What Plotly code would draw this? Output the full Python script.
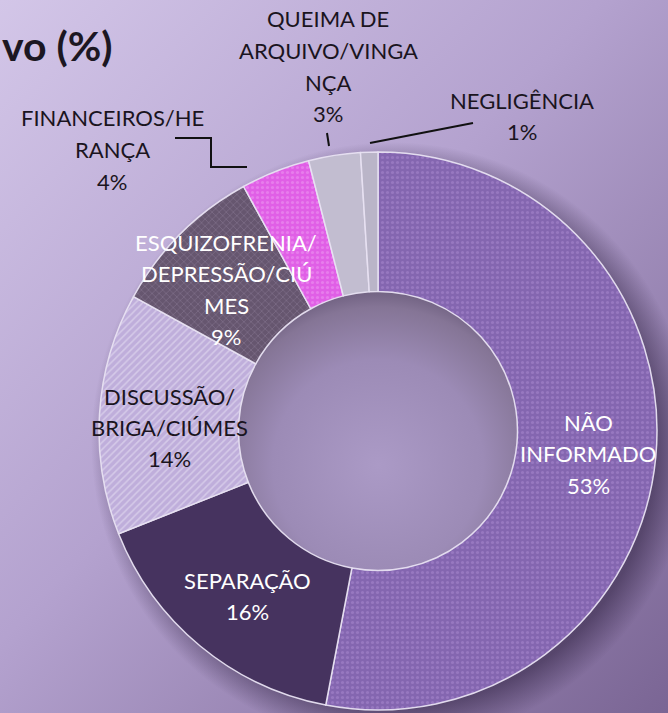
import base64
import plotly.graph_objects as go

# ---------------- data ----------------
labels = ["NÃO INFORMADO", "SEPARAÇÃO", "DISCUSSÃO/BRIGA/CIÚMES",
          "ESQUIZOFRENIA/DEPRESSÃO/CIÚMES", "FINANCEIROS/HERANÇA",
          "QUEIMA DE ARQUIVO/VINGANÇA", "NEGLIGÊNCIA"]
values = [53, 16, 14, 9, 4, 3, 1]
label_lines = [
    ["NÃO", "INFORMADO"],
    ["SEPARAÇÃO"],
    ["DISCUSSÃO/", "BRIGA/CIÚMES"],
    ["ESQUIZOFRENIA/", "DEPRESSÃO/CIÚ", "MES"],
    ["FINANCEIROS/HE", "RANÇA"],
    ["QUEIMA DE", "ARQUIVO/VINGA", "NÇA"],
    ["NEGLIGÊNCIA"],
]
title_text = "vo (%)"

# ---------------- styling ----------------
W, H = 668, 713
CX, CY, R = 378, 431, 279          # pie centre / radius in px
HOLE = 0.5

base_colors = ["#8466b0", "#46335f", "#bfaedb", "#66566f", "#e05fe6", "#c2bdd0", "#bab5c8"]
pat_shapes = [".", "", "/", "x", ".", "", ""]
pat_fg = ["#a98ad0", "#46335f", "#ece6f6", "#8f8099", "#ee9af2", "#c2bdd0", "#bab5c8"]

# label placement (px): centre x, first line y, colour
label_pos = [
    (588, 422, "white"),
    (247, 580, "white"),
    (169, 396, "#1a1420"),
    (226, 242, "white"),
    (112, 118, "#1a1420"),
    (328, 19, "#1a1420"),
    (522, 100, "#1a1420"),
]
LINE_SP = 31.5
FONT = "Lato, Open Sans, sans-serif"
FSIZE = 22

leaders = [
    [(175, 138), (211, 138), (211, 167), (247, 167)],
    [(327, 133), (329, 146)],
    [(370, 143), (473, 123)],
]

# ---------------- background (svg) ----------------
hr = R * HOLE
svg = f"""<svg xmlns='http://www.w3.org/2000/svg' width='{W}' height='{H}' viewBox='0 0 {W} {H}'>
<defs>
<linearGradient id='bg' x1='0' y1='0' x2='1' y2='1'>
<stop offset='0' stop-color='#d3c6e8'/>
<stop offset='0.45' stop-color='#b4a2cf'/>
<stop offset='1' stop-color='#7a6594'/>
</linearGradient>
<radialGradient id='sh' cx='0.5' cy='0.5' r='0.5'>
<stop offset='0.88' stop-color='#2e2040' stop-opacity='0.55'/>
<stop offset='1' stop-color='#2e2040' stop-opacity='0'/>
</radialGradient>
<radialGradient id='hole' cx='0.5' cy='0.62' r='0.62'>
<stop offset='0' stop-color='#ab9ac6'/>
<stop offset='0.6' stop-color='#9c8bb6'/>
<stop offset='0.9' stop-color='#857596'/>
<stop offset='1' stop-color='#6f6080'/>
</radialGradient>
</defs>
<rect width='{W}' height='{H}' fill='url(#bg)'/>
<circle cx='{CX+14}' cy='{CY+12}' r='{R+22}' fill='url(#sh)'/>
<circle cx='{CX}' cy='{CY}' r='{hr+2}' fill='url(#hole)'/>
</svg>"""
svg_uri = "data:image/svg+xml;base64," + base64.b64encode(svg.encode("utf-8")).decode()

fig = go.Figure()
fig.add_trace(go.Pie(
    labels=labels,
    values=values,
    sort=False,
    direction="clockwise",
    rotation=0,
    hole=HOLE,
    textinfo="none",
    hoverinfo="label+percent",
    showlegend=False,
    domain=dict(x=[(CX - R) / W, (CX + R) / W],
                y=[(H - CY - R) / H, (H - CY + R) / H]),
    marker=dict(
        colors=base_colors,
        line=dict(color="rgba(232,226,242,0.95)", width=1.5),
        pattern=dict(shape=pat_shapes, fgcolor=pat_fg, bgcolor=base_colors,
                     size=5, solidity=0.3, fillmode="overlay"),
    ),
))

annotations = []
total = sum(values)
for lines, v, (x, y, col) in zip(label_lines, values, label_pos):
    all_lines = lines + [f"{round(100 * v / total)}%"]
    for i, t in enumerate(all_lines):
        yy = y + i * LINE_SP
        annotations.append(dict(
            text=t, x=x / W, y=1 - yy / H, xref="paper", yref="paper",
            xanchor="center", yanchor="middle", showarrow=False,
            font=dict(family=FONT, size=FSIZE, color=col)))

annotations.append(dict(
    text=f"<b>{title_text}</b>", x=0, y=1 - 45 / H, xref="paper", yref="paper",
    xanchor="left", yanchor="middle", showarrow=False,
    font=dict(family="Lato, Open Sans, sans-serif", size=41, color="#1c1722")))

shapes = []
for pts in leaders:
    path = "M " + " L ".join(f"{px / W},{1 - py / H}" for px, py in pts)
    shapes.append(dict(type="path", xref="paper", yref="paper", path=path,
                       line=dict(color="#111111", width=2)))

fig.update_layout(
    width=W, height=H, autosize=False,
    margin=dict(l=0, r=0, t=0, b=0),
    paper_bgcolor="#b09ecb",
    plot_bgcolor="rgba(0,0,0,0)",
    images=[dict(source=svg_uri, xref="paper", yref="paper", x=0, y=1,
                 sizex=1, sizey=1, xanchor="left", yanchor="top",
                 sizing="stretch", layer="below")],
    annotations=annotations,
    shapes=shapes,
)

fig.write_html("out.html", config={"displayModeBar": False},
               post_script="document.body.style.margin='0';document.body.style.overflow='hidden';")
